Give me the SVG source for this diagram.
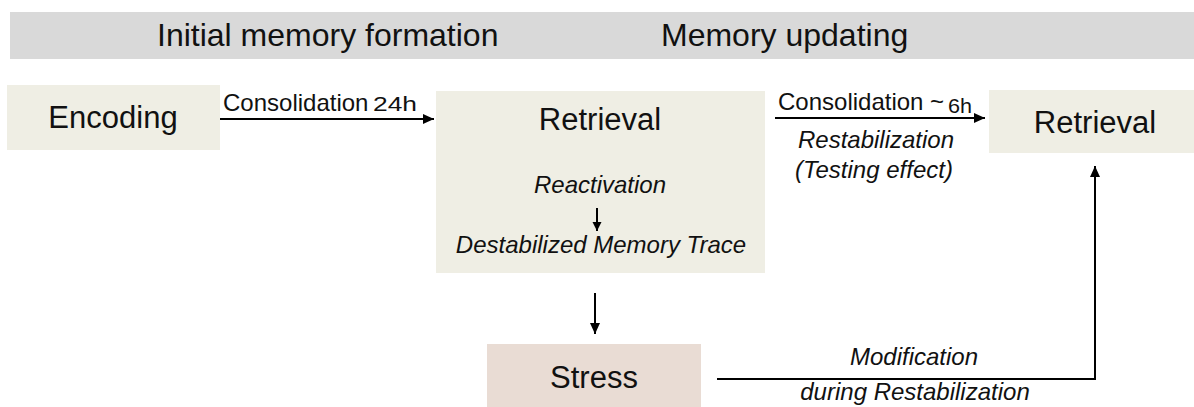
<svg xmlns="http://www.w3.org/2000/svg" width="1194" height="407" viewBox="0 0 1194 407">
<style>
text{font-family:"Liberation Sans",Arial,sans-serif;fill:#111;}
.big{font-size:31px;}
.hdr{font-size:32px;}
.lab{font-size:24px;}
.it{font-size:24px;font-style:italic;}
.sm{font-size:20px;}
.box{fill:#efeee4;}
.stress{fill:#e9dcd4;}
.conn{stroke:#000;stroke-width:2;fill:none;}
</style>
<defs>
<marker id="ah" markerUnits="userSpaceOnUse" markerWidth="12" markerHeight="10" refX="11" refY="5" orient="auto">
<path d="M0,0 L11,5 L0,10 z" fill="#000"/>
</marker>
<marker id="ahs" markerUnits="userSpaceOnUse" markerWidth="10" markerHeight="10" refX="9" refY="4.5" orient="auto">
<path d="M0,0 L9,4.5 L0,9 z" fill="#000"/>
</marker>
</defs>
<g id="header">
<rect x="10" y="12" width="1184" height="47" fill="#d9d9d9"/>
<text class="hdr" x="157" y="46">Initial memory formation</text>
<text class="hdr" x="661" y="46">Memory updating</text>
</g>
<g id="encoding">
<rect class="box" x="7" y="85" width="213" height="65"/>
<text class="big" x="113" y="128" text-anchor="middle">Encoding</text>
</g>
<g id="retrieval1">
<rect class="box" x="436" y="91" width="329" height="182"/>
<text class="big" x="600" y="130" text-anchor="middle">Retrieval</text>
<text class="it" x="600" y="193" text-anchor="middle">Reactivation</text>
<line class="conn" x1="597" y1="208" x2="597" y2="231" stroke-width="1.5" marker-end="url(#ahs)"/>
<text class="it" x="601" y="253" text-anchor="middle">Destabilized Memory Trace</text>
</g>
<g id="retrieval2">
<rect class="box" x="989" y="90" width="205" height="63"/>
<text class="big" x="1095" y="133" text-anchor="middle">Retrieval</text>
</g>
<g id="stress">
<rect class="stress" x="487" y="344" width="214" height="63"/>
<text class="big" x="594" y="388" text-anchor="middle">Stress</text>
</g>
<g id="connectors">
<line class="conn" x1="220" y1="119" x2="434" y2="119" marker-end="url(#ah)"/>
<text class="lab" x="223" y="111">Consolidation</text>
<text class="sm" x="373" y="111" textLength="44" lengthAdjust="spacingAndGlyphs">24h</text>
<line class="conn" x1="775" y1="118" x2="985" y2="118" marker-end="url(#ah)"/>
<text class="lab" x="778" y="110">Consolidation ~</text>
<text class="sm" x="948" y="113" textLength="24" lengthAdjust="spacingAndGlyphs">6h</text>
<text class="it" x="876" y="148" text-anchor="middle">Restabilization</text>
<text class="it" x="874" y="178" text-anchor="middle">(Testing effect)</text>
<line class="conn" x1="595" y1="293" x2="595" y2="334" marker-end="url(#ah)"/>
<polyline class="conn" points="717,379 1095,379 1095,166" marker-end="url(#ah)"/>
<text class="it" x="914" y="365" text-anchor="middle">Modification</text>
<text class="it" x="915" y="400" text-anchor="middle">during Restabilization</text>
</g>
</svg>
